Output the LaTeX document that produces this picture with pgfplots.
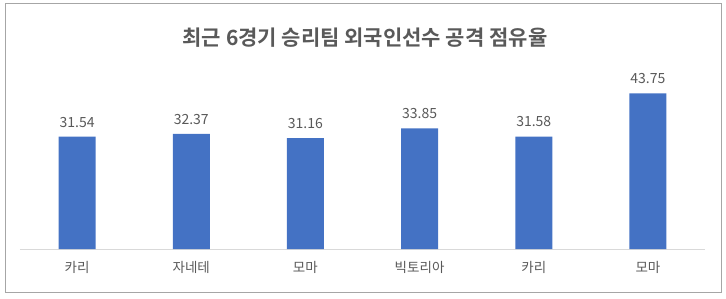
\documentclass[border=0pt]{standalone}
\usepackage{fontspec}
\setmainfont{Noto Sans CJK KR}[BoldFont={Noto Sans CJK KR Bold}]
\usepackage{pgfplots}
\pgfplotsset{compat=1.18}
\definecolor{barblue}{HTML}{4472C4}
\definecolor{txtgray}{HTML}{595959}
\definecolor{axisgray}{HTML}{D9D9D9}
\definecolor{bordergray}{HTML}{A6A6A6}
\begin{document}
\begin{tikzpicture}
\useasboundingbox (0pt,0pt) rectangle (726pt,298pt);
\draw[bordergray, line width=1pt] (5pt,6pt) rectangle (721pt,294pt);
\node[text=txtgray, font=\fontsize{21}{24}\selectfont\bfseries] at (365pt,260pt) {최근 6경기 승리팀 외국인선수 공격 점유율};
\begin{axis}[
  at={(20pt,49pt)}, anchor=south west,
  scale only axis,
  width=685pt, height=178pt,
  xmin=-0.5, xmax=5.5,
  ymin=0, ymax=50,
  axis y line=none,
  axis x line*=bottom,
  x axis line style={axisgray, line width=1pt, -},
  xtick={0,1,2,3,4,5},
  xticklabels={카리,자네테,모마,빅토리아,카리,모마},
  xtick style={draw=none},
  xticklabel style={text=txtgray, font=\fontsize{13.5}{16}\selectfont, yshift=-9pt},
  ytick=\empty,
  clip=false,
  point meta=explicit symbolic,
  nodes near coords,
  nodes near coords style={text=txtgray, font=\fontsize{14}{16}\selectfont, anchor=south, yshift=6pt},
]
\addplot[ybar, bar width=37pt, fill=barblue, draw=none] coordinates {
  (0,31.54) [31.54]
  (1,32.37) [32.37]
  (2,31.16) [31.16]
  (3,33.85) [33.85]
  (4,31.58) [31.58]
  (5,43.75) [43.75]
};
\end{axis}
\end{tikzpicture}
\end{document}
